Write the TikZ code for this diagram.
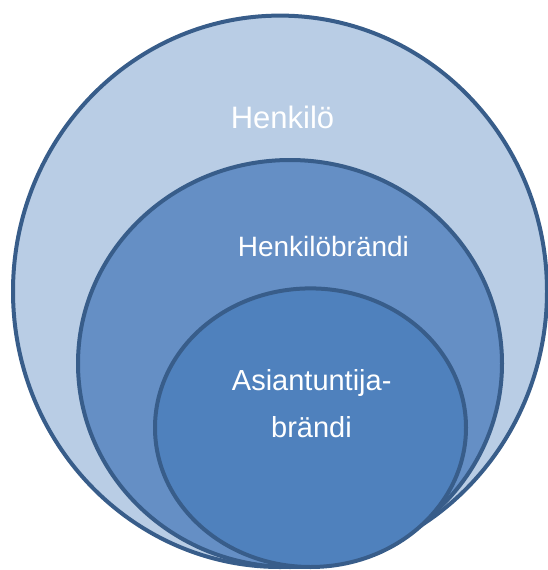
\documentclass[tikz,border=0pt]{standalone}
\usepackage{fontspec}
\setmainfont{Liberation Sans}
\definecolor{edgeblue}{RGB}{56,93,138}
\definecolor{outerfill}{RGB}{185,205,229}
\definecolor{midfill}{RGB}{101,143,197}
\definecolor{innerfill}{RGB}{79,129,189}
\tikzset{
  ring/.style={draw=edgeblue, line width=4pt},
  lbl/.style={text=white, inner sep=0pt, anchor=base}
}
\begin{document}
\begin{tikzpicture}[x=1pt,y=-1pt]
\useasboundingbox (0,0) rectangle (547,570);
\draw[ring, fill=outerfill] (280,291.3) ellipse [x radius=267pt, y radius=275.7pt];
\draw[ring, fill=midfill] (290,363.5) ellipse [x radius=212pt, y radius=203.5pt];
\draw[ring, fill=innerfill] (310.5,427.7) ellipse [x radius=155.5pt, y radius=139.3pt];
\node[lbl, font=\fontsize{31}{31}\selectfont] (t1) at (282.5,128.3) {Henkilö};
\node[lbl, font=\fontsize{28}{28}\selectfont] (t2) at (323.4,256) {Henkilöbrändi};
\node[lbl, font=\fontsize{29}{29}\selectfont] (t3) at (311.7,390) {Asiantuntija-};
\node[lbl, font=\fontsize{29}{29}\selectfont] (t4) at (311.5,437) {brändi};
\end{tikzpicture}
\end{document}
